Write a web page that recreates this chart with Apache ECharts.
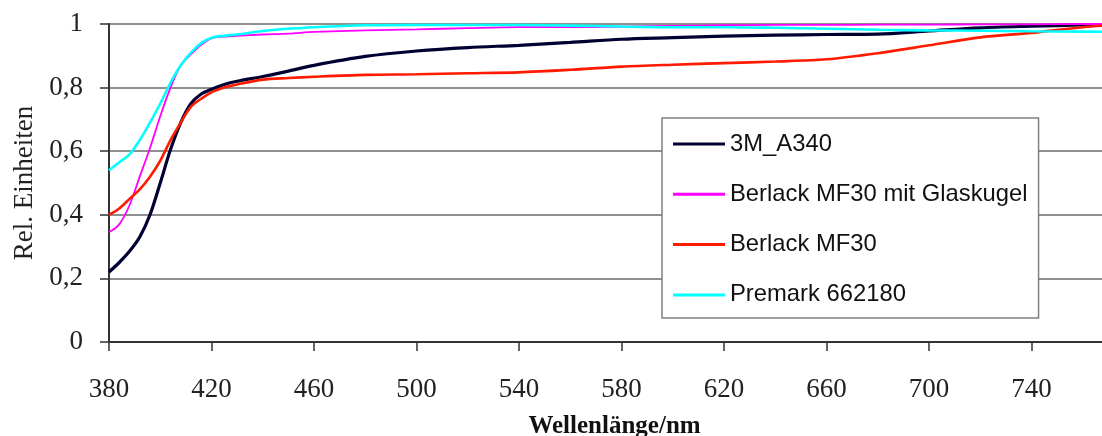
<!DOCTYPE html>
<html>
<head>
<meta charset="utf-8">
<script src="https://cdn.jsdelivr.net/npm/echarts@6/dist/echarts.min.js"></script>
<style>html,body{margin:0;padding:0;background:#fff;}#c{width:1102px;height:436px;}</style>
</head>
<body>
<div id="c"></div>
<script>
const wavelengths = [380,384,388,392,396,400,404,408,412,416,420,425,430,440,450,460,480,500,520,540,560,580,600,620,640,660,680,700,720,740,760,780];
const a340 =      [0.22,0.25,0.285,0.33,0.40,0.50,0.605,0.69,0.75,0.78,0.795,0.81,0.82,0.835,0.852,0.870,0.898,0.915,0.926,0.933,0.942,0.952,0.957,0.962,0.965,0.967,0.968,0.978,0.988,0.993,0.997,1.0];
const mf30Glas =  [0.345,0.37,0.43,0.52,0.61,0.71,0.80,0.87,0.905,0.935,0.955,0.96,0.963,0.967,0.97,0.975,0.98,0.983,0.987,0.99,0.99,0.992,0.994,0.996,0.997,0.997,0.998,0.998,0.999,0.999,1.0,1.0];
const mf30 =      [0.40,0.42,0.45,0.48,0.52,0.57,0.635,0.69,0.74,0.765,0.785,0.80,0.81,0.825,0.83,0.834,0.84,0.842,0.845,0.848,0.856,0.866,0.872,0.877,0.882,0.889,0.908,0.933,0.958,0.972,0.99,1.0];
const premark =   [0.54,0.565,0.59,0.635,0.69,0.75,0.815,0.87,0.91,0.94,0.957,0.963,0.967,0.978,0.985,0.99,0.996,0.997,0.997,0.997,0.995,0.992,0.99,0.99,0.988,0.985,0.982,0.98,0.979,0.977,0.976,0.975];
const seriesNames = ['3M_A340','Berlack MF30 mit Glaskugel','Berlack MF30','Premark 662180'];
const seriesData = [a340, mf30Glas, mf30, premark];
const colors = ['#000033','#ff00ff','#ff1a00','#00ffff'];
const widths = [3.2,1.8,2.6,2.6];
const xTitle = 'Wellenlänge/nm';
const yTitle = 'Rel. Einheiten';

const chart = echarts.init(document.getElementById('c'), null, {renderer:'canvas'});
const serif = '"Liberation Serif","Times New Roman",serif';
chart.setOption({
  animation:false,
  backgroundColor:'#fff',
  grid:{left:109, top:24, bottom:94, right:0, containLabel:false, outerBoundsMode:'none'},
  legend:{
    orient:'vertical', left:662, top:118,
    padding:[14,11,11,11],
    backgroundColor:'#fff', borderColor:'#808080', borderWidth:1.5,
    itemWidth:52, itemHeight:3, itemGap:26.3, icon:'rect',
    textStyle:{fontFamily:'"Liberation Sans",Arial,sans-serif', fontSize:23.8, color:'#111', lineHeight:22},
    data:seriesNames
  },
  xAxis:{
    type:'value', min:380, max:767.5, interval:40,
    name:xTitle, nameLocation:'middle', nameGap:72,
    nameTextStyle:{fontFamily:serif, fontWeight:'bold', fontSize:25, color:'#111', padding:[0,0,0,18]},
    axisLine:{show:true, onZero:false, lineStyle:{color:'#333', width:2}},
    axisTick:{show:true, inside:false, length:9, lineStyle:{color:'#333', width:1.5}},
    axisLabel:{fontFamily:serif, fontSize:27, color:'#222', margin:34, showMaxLabel:false},
    splitLine:{show:false}
  },
  yAxis:{
    type:'value', min:0, max:1, interval:0.2,
    name:yTitle, nameLocation:'middle', nameGap:70, nameRotate:90,
    nameTextStyle:{fontFamily:serif, fontSize:27, color:'#222'},
    axisLine:{show:true, lineStyle:{color:'#333', width:2}},
    axisTick:{show:true, inside:false, length:9, lineStyle:{color:'#333', width:1.5}},
    axisLabel:{fontFamily:serif, fontSize:27, color:'#222', margin:26,
      formatter:v=>String(Math.round(v*10)/10).replace('.',',')},
    splitLine:{show:true, lineStyle:{color:'#6a6a6a', width:1.5}}
  },
  series: seriesNames.map((n,i)=>({
    name:n, type:'line', showSymbol:false, symbol:'none',
    smooth:0.3,
    data:wavelengths.map((w,j)=>[w, seriesData[i][j]]),
    lineStyle:{color:colors[i], width:widths[i]},
    itemStyle:{color:colors[i]},
    z:2+i
  }))
});
</script>
</body>
</html>
